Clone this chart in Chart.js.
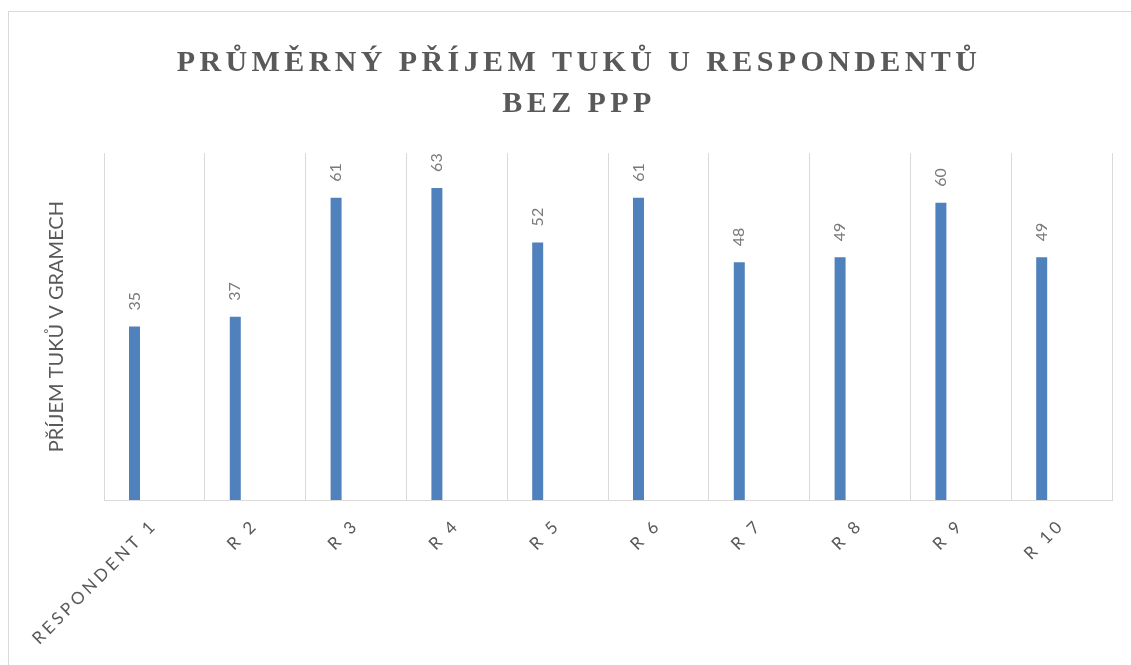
<!DOCTYPE html>
<html>
<head>
<meta charset="utf-8">
<script src="https://cdn.jsdelivr.net/npm/chart.js@4/dist/chart.umd.min.js"></script>
<style>
html,body{margin:0;padding:0;background:#fff;}
#wrap{position:relative;width:1131px;height:665px;}
#frame{position:absolute;left:8px;top:11px;right:0;bottom:0;border-top:1px solid #d9d9d9;border-left:1px solid #d9d9d9;pointer-events:none;}
</style>
</head>
<body>
<div id="wrap"><canvas id="c"></canvas><div id="frame"></div></div>
<script>
const categories = ['RESPONDENT 1','R 2','R 3','R 4','R 5','R 6','R 7','R 8','R 9','R 10'];
const fatIntake = [35, 37, 61, 63, 52, 61, 48, 49, 60, 49];
const emptySeries = [null, null, null, null, null, null, null, null, null, null];
const titleLines = ['PRŮMĚRNÝ PŘÍJEM TUKŮ U RESPONDENTŮ', 'BEZ PPP'];
const yTitle = 'PŘÍJEM TUKŮ V GRAMECH';

const patchPlugin = {
  id: 'patch',
  afterUpdate(chart) {
    const tb = chart.titleBlock;
    if (tb && !tb._patched) {
      const orig = tb.draw;
      tb.draw = function (...a) { const ctx = this.ctx; ctx.save(); ctx.translate(23, 2); ctx.letterSpacing = '4.4px'; orig.apply(this, a); ctx.restore(); };
      tb._patched = true;
    }
    const xs = chart.scales.x;
    if (xs && !xs._patched) {
      const o = xs.drawLabels;
      xs.drawLabels = function (...a) { const ctx = this.ctx; ctx.save(); ctx.letterSpacing = '3.5px'; o.apply(this, a); ctx.restore(); };
      xs._patched = true;
    }
  }
};

const valueLabels = {
  id: 'valueLabels',
  afterDatasetsDraw(chart) {
    const ctx = chart.ctx;
    const meta = chart.getDatasetMeta(0);
    const ds = chart.data.datasets[0].data;
    meta.data.forEach((el, i) => {
      ctx.save();
      ctx.translate(el.x, el.y - 16);
      ctx.rotate(-Math.PI / 2);
      ctx.font = '16px Lato, "Open Sans", sans-serif';
      ctx.fillStyle = '#7a7a7a';
      ctx.textAlign = 'left';
      ctx.textBaseline = 'middle';
      ctx.fillText(String(ds[i]), 0, 0);
      ctx.restore();
    });
  }
};

new Chart(document.getElementById('c'), {
  type: 'bar',
  data: {
    labels: categories,
    datasets: [
      { data: fatIntake, backgroundColor: '#4f81bd', categoryPercentage: 0.79, barPercentage: 0.276 },
      { data: emptySeries, backgroundColor: '#c0504d', categoryPercentage: 0.79, barPercentage: 0.276 }
    ]
  },
  options: {
    responsive: true,
    maintainAspectRatio: false,
    animation: false,
    layout: { padding: { left: 0, right: 19, top: 0, bottom: 0 } },
    plugins: {
      legend: { display: false },
      tooltip: { enabled: false },
      title: {
        display: true,
        text: titleLines,
        color: '#595959',
        font: { family: '"Liberation Serif", "Times New Roman", serif', size: 30, weight: 'bold', lineHeight: 1.37 },
        padding: { top: 41, bottom: 30 }
      }
    },
    scales: {
      x: {
        grid: { display: true, offset: true, color: '#d9d9d9', drawTicks: false, lineWidth: 1 },
        border: { display: true, color: '#d9d9d9', width: 1 },
        ticks: {
          color: '#595959',
          font: { family: 'Lato, "Open Sans", sans-serif', size: 17 },
          minRotation: 45, maxRotation: 45, padding: 15, autoSkip: false
        },
        afterFit(scale) { scale.height = 165; }
      },
      y: {
        min: 0, max: 70,
        grid: { display: false },
        border: { display: false },
        ticks: { display: false },
        title: {
          display: true,
          text: yTitle,
          color: '#595959',
          font: { family: 'Lato, "Open Sans", sans-serif', size: 20 },
          padding: { top: 45, bottom: 0 }
        },
        afterFit(scale) { scale.width = 104; }
      }
    }
  },
  plugins: [patchPlugin, valueLabels]
});
</script>
</body>
</html>
